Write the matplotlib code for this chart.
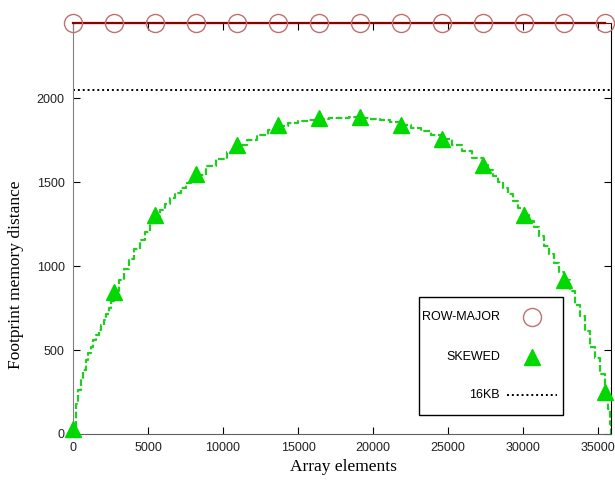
import matplotlib.pyplot as plt
from matplotlib.patches import Rectangle

# footprint curve of the skewed layout
step_x = [0, 171, 341, 512, 683, 853, 1024, 1195, 1365, 1536, 1706, 1877, 2048, 2218, 2389, 2559,
          2730, 3071, 3413, 3754, 4095, 4437, 4778, 5119, 5460, 5801, 6143, 6484, 6825, 7167,
          7508, 7849, 8190, 8873, 9555, 10238, 10920, 11603,
          12285, 12968, 13650, 14333, 15015, 15698, 16380, 17063, 17745, 18428, 19110, 19793, 20475,
          21158, 21840, 22523, 23205, 23888, 24570, 25253, 25935, 26618, 27300, 27641, 27983, 28324,
          28665, 29007, 29348, 29689,
          30030, 30371, 30712, 31053, 31394, 31735, 32076, 32417, 32758, 33099, 33440, 33781, 34122,
          34463, 34804, 35145, 35486, 35657, 35780, 35840]
step_y = [0, 180, 260, 330, 380, 440, 480, 520, 560, 590, 620, 650, 680, 712, 750, 795,
          850, 920, 985, 1045, 1100, 1155, 1205, 1255, 1300, 1337, 1370, 1403, 1435, 1465,
          1493, 1520, 1545, 1595, 1640, 1682, 1720, 1752,
          1783, 1810, 1835, 1852, 1865, 1873, 1878, 1882, 1885, 1886, 1885, 1878, 1868,
          1856, 1840, 1822, 1802, 1780, 1755, 1722, 1685, 1645, 1600, 1570, 1535, 1500,
          1465, 1428, 1388, 1348,
          1305, 1270, 1235, 1180, 1120, 1070, 1018, 966, 915, 850, 770, 700, 615,
          520, 450, 360, 250, 150, 60, 0]

# marked points
mark_x = [0, 2730, 5460, 8190, 10920, 13650, 16380, 19110, 21840, 24570, 27300, 30030, 32760, 35490]
skewed_y = [30, 847, 1304, 1548, 1720, 1839, 1881, 1887, 1839, 1756, 1601, 1304, 917, 250]
row_major_y = [2450] * len(mark_x)
kb16 = 2048

xticks = [0, 5000, 10000, 15000, 20000, 25000, 30000, 35000]
yticks = [0, 500, 1000, 1500, 2000]

sans = "Liberation Sans"
serif = "Liberation Serif"

fig = plt.figure(figsize=(6.15, 4.83), dpi=100)
ax = fig.add_axes([73 / 615, 49 / 483, 538 / 615, 411.3 / 483])

green = "#00d800"
ax.step(step_x, step_y, where="post", color="#22cc22", lw=1.6, ls=(0, (3, 1.2)), zorder=2)
ax.plot(mark_x, skewed_y, ls="none", marker="^", ms=12, color=green, mec=green, clip_on=False, zorder=3)
ax.axhline(kb16, color="black", lw=1.4, ls=(0, (1, 1.5)), zorder=2)
ax.plot(mark_x, row_major_y, color="#8b0000", lw=1.6, clip_on=False, zorder=4)
ax.plot(mark_x, row_major_y, ls="none", marker="o", ms=13, mfc="none", mec="#c07070", mew=1.0,
        clip_on=False, zorder=5)

ax.set_xlim(0, 35860)
ax.set_ylim(0, 2450)
ax.set_xticks(xticks)
ax.set_yticks(yticks)
ax.tick_params(direction="in", length=5, width=0.8, top=True, right=True,
               labelsize=9, labelcolor="#222222", pad=6)
for lab in ax.get_xticklabels() + ax.get_yticklabels():
    lab.set_family(sans)

ax.spines["left"].set_color("#808080")
ax.spines["bottom"].set_color("#606060")
ax.spines["right"].set_color("black")
ax.spines["top"].set_color("#8b0000")

fig.text(343.5 / 615, 1 - 467 / 483, "Array elements", family=serif, fontsize=12.5,
         ha="center", va="center")
fig.text(16 / 615, 1 - 275 / 483, "Footprint memory distance", family=serif, fontsize=12.5,
         rotation=90, ha="center", va="center")

# legend box drawn gnuplot style (text right, sample after)
ax.add_patch(Rectangle((0.643, 0.0462), 0.2678, 0.2868, transform=ax.transAxes,
                       fill=False, ec="black", lw=1.0, zorder=6))
ax.text(0.7937, 0.2845, "ROW-MAJOR", transform=ax.transAxes, ha="right", va="center",
        family=sans, fontsize=9, zorder=7)
ax.text(0.7937, 0.1872, "SKEWED", transform=ax.transAxes, ha="right", va="center",
        family=sans, fontsize=9, zorder=7)
ax.text(0.7937, 0.0948, "16KB", transform=ax.transAxes, ha="right", va="center",
        family=sans, fontsize=9, zorder=7)
ax.plot([0.8532], [0.2845], transform=ax.transAxes, marker="o", ms=13, mfc="none",
        mec="#c07070", mew=1.0, ls="none", zorder=7)
ax.plot([0.8532], [0.1872], transform=ax.transAxes, marker="^", ms=12, color=green, ls="none", zorder=7)
ax.plot([0.8067, 0.8996], [0.0948, 0.0948], transform=ax.transAxes, color="black", lw=1.4,
        ls=(0, (1, 1.5)), zorder=7)

fig.savefig("out.png", dpi=100)
